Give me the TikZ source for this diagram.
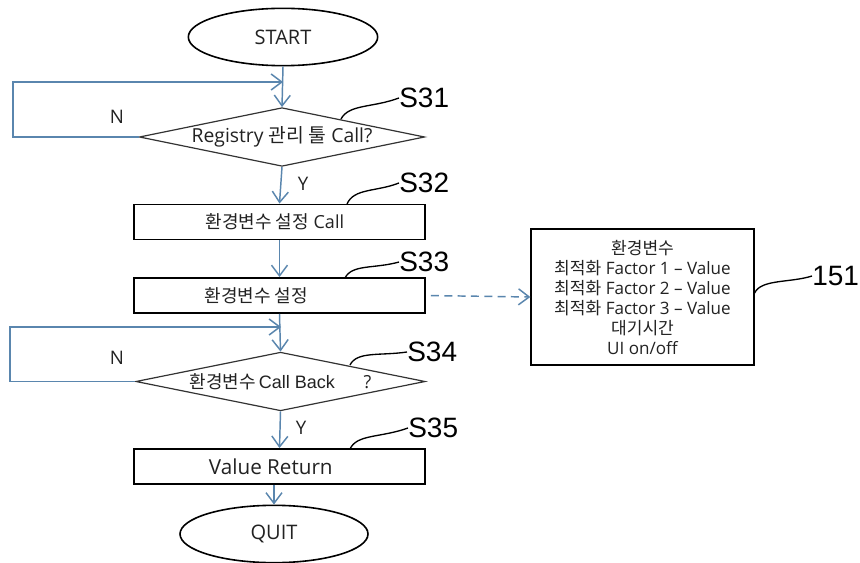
\documentclass[tikz,border=0pt]{standalone}
\usepackage{fontspec}
\setmainfont{Open Sans}
\newfontfamily\kr{Noto Sans CJK KR}
\newfontfamily\lab{Liberation Sans}
\usetikzlibrary{shapes.geometric,arrows.meta}
\definecolor{flowc}{HTML}{5A86AE}
\definecolor{txt}{HTML}{222222}
\begin{document}
\begin{tikzpicture}[x=0.75pt,y=-0.75pt,
  flow/.style={draw=flowc, line width=1.1pt, -{Straight Barb[length=8pt,width=12pt]}},
  term/.style={ellipse, draw=black, line width=1.2pt, inner sep=0pt, text=txt, font=\fontsize{15}{18}\selectfont},
  dec/.style={diamond, shape aspect=4.9, draw=black!80, line width=0.9pt, inner sep=0pt, text=txt, font=\fontsize{13.5}{16}\selectfont},
  proc/.style={rectangle, draw=black, line width=1.2pt, inner sep=0pt, minimum width=218pt, minimum height=26.5pt, text=txt, font=\fontsize{13.5}{16}\selectfont},
  lead/.style={draw=black, line width=1pt},
  steplab/.style={anchor=west, inner sep=0pt, text=black, font=\lab\fontsize{21}{24}\selectfont},
  yn/.style={inner sep=0pt, text=txt, font=\fontsize{14}{16}\selectfont}
]
\useasboundingbox[fill=white] (0,0) rectangle (860,563);

% nodes
\node[term, minimum width=142pt, minimum height=43pt] (start) at (283,37) {START};
\node[dec, minimum width=214pt, minimum height=44pt, font=\fontsize{14.5}{17}\selectfont] (d1) at (282,137) {Registry {\kr 관리 툴} Call?};
\node[proc] (b1) at (279.5,222) {{\kr 환경변수 설정} Call\kern7pt};
\node[proc] (b2) at (279.5,295.5) {{\kr 환경변수 설정}\kern35pt};
\node[dec, minimum width=217pt, minimum height=44pt] (d2) at (280.5,381.5) {{\kr 환경변수}\,{\lab Call Back}\hspace{1.6em}?};
\node[proc, font=\fontsize{15.5}{18}\selectfont] (b3) at (279.5,466.5) {Value Return\kern13pt};
\node[term, minimum width=141pt, minimum height=43pt] (quit) at (274,534) {QUIT};

\node[rectangle, draw=black, line width=1.2pt, minimum width=167pt, minimum height=102pt, inner sep=0pt,
  align=center, text=txt, font=\fontsize{12.8}{15}\selectfont] (env) at (642.5,297)
  {{\kr 환경변수}\\ {\kr 최적화} Factor 1 -- Value\\ {\kr 최적화} Factor 2 -- Value\\ {\kr 최적화} Factor 3 -- Value\\ {\kr 대기시간}\\ UI on/off};

% loop coordinates
\coordinate (l1) at (283,82);
\coordinate (l2) at (281,327);

% connectors
\draw[flow] (start.south) -- (d1.north);
\draw[flow] (d1.west) -- (13,137) |- (l1);
\draw[flow] (d1.south) -- (b1.north);
\draw[flow] (b1.south) -- (b2.north);
\draw[flow] (b2.south) -- (d2.north);
\draw[flow] (d2.west) -- (10,381.5) |- (l2);
\draw[flow] (d2.south) -- (b3.north);
\draw[flow] (b3.south -| quit.north) -- (quit.north);
\draw[flow, dashed, dash pattern=on 6pt off 4pt, shorten <=4pt] (b2.east) -- (env.west);

% Y / N labels
\node[yn] (n1) at (117,117) {N};
\node[yn] (y1) at (303,184) {Y};
\node[yn] (n2) at (117,358) {N};
\node[yn] (y2) at (301,428) {Y};

% step labels
\node[steplab] (s31) at (399,98) {S31};
\node[steplab] (s32) at (399,183) {S32};
\node[steplab] (s33) at (399,262) {S33};
\node[steplab] (s34) at (407,352) {S34};
\node[steplab] (s35) at (408,428) {S35};
\node[steplab] (s151) at (812,276) {151};

% leaders
\draw[lead] (341,119) .. controls (349,104) and (372,108) .. (s31.west);
\draw[lead] (347,204) .. controls (354,188) and (376,192) .. (s32.west);
\draw[lead] (345,278) .. controls (352,264) and (374,269) .. (s33.west);
\draw[lead] (350,365) .. controls (357,351) and (380,356) .. (s34.west);
\draw[lead] (350,449) .. controls (357,434) and (380,438) .. (s35.west);
\draw[lead] (env.east |- 0,293) .. controls (761,279) and (790,283) .. (s151.west);
\end{tikzpicture}
\end{document}
